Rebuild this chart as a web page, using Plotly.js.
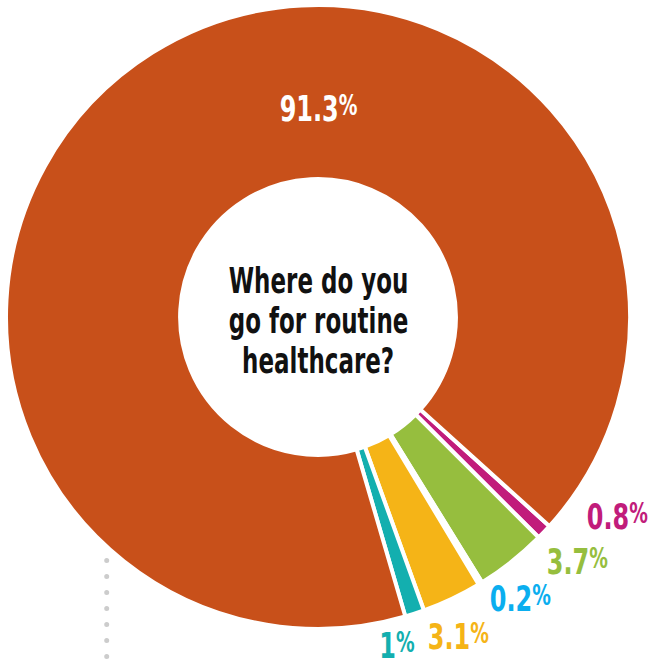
<!DOCTYPE html>
<html>
<head>
<meta charset="utf-8">
<script src="https://cdn.plot.ly/plotly-3.0.1.min.js"></script>
<style>
  html, body { margin: 0; padding: 0; background: #ffffff; }
  #chart { width: 650px; height: 667px; }
  .shapelayer path { stroke-linecap: round !important; }
</style>
</head>
<body>
<div id="chart"></div>
<script>
// Data (clockwise order, starting at the lower-right small slice)
var categories = ["Category A", "Category B", "Category C", "Category D", "Category E", "Category F"];
var values = [0.8, 3.7, 0.2, 3.1, 1, 91.3];
var sliceColors = ["#C11C7B", "#96BE3E", "#0BAEEF", "#F5B417", "#13AFAF", "#C8501A"];
var labelTexts = ["0.8", "3.7", "0.2", "3.1", "1", "91.3"];
var questionLines = ["Where do you", "go for routine", "healthcare?"];

var W = 650, H = 667;
var FONT = "'DejaVu Sans Condensed', 'DejaVu Sans', sans-serif";

function px(x) { return x / W; }
function py(y) { return 1 - y / H; }

var trace = {
  type: "pie",
  labels: categories,
  values: values,
  marker: { colors: sliceColors, line: { color: "#ffffff", width: 4 } },
  hole: 0.442,
  sort: false,
  direction: "clockwise",
  rotation: 132.1,
  textinfo: "none",
  hoverinfo: "none",
  showlegend: false,
  domain: { x: [px(6), px(630)], y: [py(629), py(5)] }
};

// label placement (pixel positions of label centres), text comes from data arrays
var labelPos = [[617, 516], [577, 561], [520, 598], [458, 636], [397, 645], [318, 108]];
var LABEL_SIZE = 36;
var annotations = [];
var squeeze = [];
for (var i = 0; i < labelTexts.length; i++) {
  var col = (i === 5) ? "#ffffff" : sliceColors[i];
  annotations.push({
    xref: "paper", yref: "paper",
    x: px(labelPos[i][0]), y: py(labelPos[i][1]),
    xanchor: "center", yanchor: "middle",
    showarrow: false,
    text: "<b>" + labelTexts[i] + "<span style=\"font-size:28px;baseline-shift:6px\">%</span></b>",
    font: { family: FONT, size: LABEL_SIZE, color: col }
  });
  squeeze.push(0.74);
}
var qY = [280, 320, 360];
for (var j = 0; j < questionLines.length; j++) {
  annotations.push({
    xref: "paper", yref: "paper",
    x: px(318), y: py(qY[j]),
    xanchor: "center", yanchor: "middle",
    showarrow: false,
    text: "<b>" + questionLines[j] + "</b>",
    font: { family: FONT, size: 36, color: "#111111" }
  });
  squeeze.push(0.71);
}

var layout = {
  width: W, height: H,
  margin: { l: 0, r: 0, t: 0, b: 0 },
  paper_bgcolor: "#ffffff",
  plot_bgcolor: "#ffffff",
  showlegend: false,
  annotations: annotations,
  shapes: [{
    type: "line", layer: "below",
    xref: "paper", yref: "paper",
    x0: px(106.7), x1: px(106.7), y0: py(560.5), y1: py(657),
    line: { color: "#CCCCCC", width: 5, dash: "0px,16px" }
  }]
};

Plotly.newPlot("chart", [trace], layout, { displayModeBar: false, staticPlot: true }).then(function (gd) {
  // emulate a condensed typeface by narrowing each annotation text horizontally
  var groups = gd.querySelectorAll("g.annotation");
  groups.forEach(function (g) {
    var idx = +g.getAttribute("data-index");
    var t = g.querySelector("text.annotation-text");
    if (t && squeeze[idx]) {
      t.style.transformBox = "fill-box";
      t.style.transformOrigin = "center";
      t.style.transform = "scaleX(" + squeeze[idx] + ")";
    }
  });
});
</script>
</body>
</html>
